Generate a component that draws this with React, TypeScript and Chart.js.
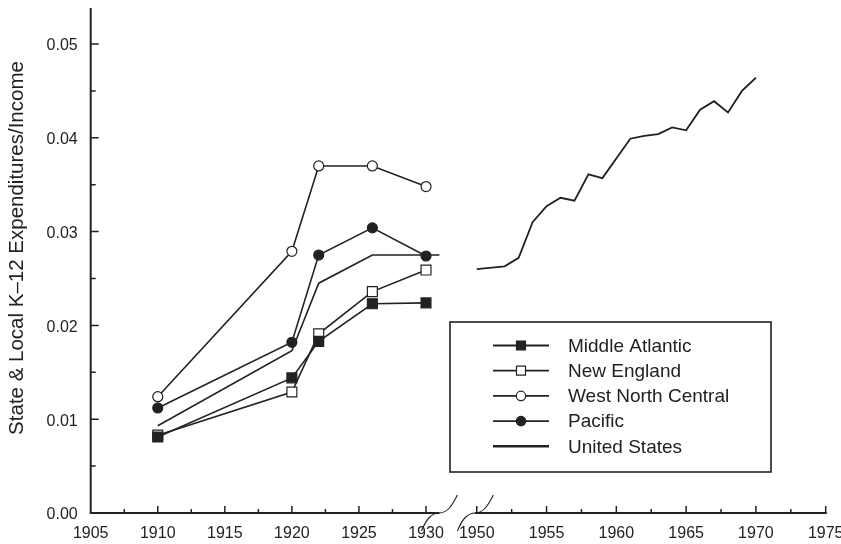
import React, { useEffect, useRef } from 'react';
import { Chart, registerables } from 'chart.js';

Chart.register(...registerables);

// ---- data ----
const regionYears = [1910, 1920, 1922, 1926, 1930];
const middleAtlantic = [0.0081, 0.0144, 0.0183, 0.0223, 0.0224];
const newEngland = [0.0083, 0.0129, 0.0191, 0.0236, 0.0259];
const westNorthCentral = [0.0124, 0.0279, 0.037, 0.037, 0.0348];
const pacific = [0.0112, 0.0182, 0.0275, 0.0304, 0.0274];

const usEarlyYears = [1910, 1920, 1922, 1926, 1931];
const usEarly = [0.0093, 0.0173, 0.0245, 0.0275, 0.0275];

const usLateYears = [1950, 1952, 1953, 1954, 1955, 1956, 1957, 1958, 1959, 1961, 1962, 1963, 1964, 1965, 1966, 1967, 1968, 1969, 1970];
const usLate = [0.026, 0.0263, 0.0272, 0.031, 0.0327, 0.0336, 0.0333, 0.0361, 0.0357, 0.0399, 0.0402, 0.0404, 0.0411, 0.0408, 0.043, 0.0439, 0.0427, 0.045, 0.0464];

const leftTickYears = [1905, 1910, 1915, 1920, 1925, 1930];
const rightTickYears = [1950, 1955, 1960, 1965, 1970, 1975];
const yTickValues = [0, 0.01, 0.02, 0.03, 0.04, 0.05];

const yTitle = 'State & Local K\u201312 Expenditures/Income';
const legendLabels = ['Middle Atlantic', 'New England', 'West North Central', 'Pacific', 'United States'];

const INK = '#222222';
const FONT = "'Liberation Sans', Arial, Helvetica, sans-serif";
const Y_MAX = 0.05373;

type Marker = { style: string; fill: string } | null;
const legendMarkers: Marker[] = [
  { style: 'rect', fill: INK },
  { style: 'rect', fill: '#ffffff' },
  { style: 'circle', fill: '#ffffff' },
  { style: 'circle', fill: INK },
  null,
];

const pts = (xs: number[], ys: number[]) => xs.map((x, i) => ({ x, y: ys[i] }));

const brokenAxesPlugin = {
  id: 'brokenAxes',
  afterDatasetsDraw(chart: any) {
    const ctx: CanvasRenderingContext2D = chart.ctx;
    const ys = chart.scales.y;
    const xl = chart.scales.xL;
    const xr = chart.scales.xR;
    const bottom = ys.getPixelForValue(0);
    const left = xl.getPixelForValue(1905);
    const top = chart.chartArea.top;
    ctx.save();
    ctx.strokeStyle = INK;
    ctx.lineCap = 'butt';
    // axis lines
    ctx.lineWidth = 2;
    ctx.beginPath();
    ctx.moveTo(left, top - 1);
    ctx.lineTo(left, bottom + 1);
    ctx.moveTo(left - 1, bottom);
    ctx.lineTo(xl.getPixelForValue(1931), bottom);
    ctx.moveTo(xr.getPixelForValue(1949.87), bottom);
    ctx.lineTo(xr.getPixelForValue(1975) + 1, bottom);
    ctx.stroke();
    // ticks
    ctx.lineWidth = 1.5;
    ctx.beginPath();
    yTickValues.forEach((v) => {
      const p = ys.getPixelForValue(v);
      if (v > 0) {
        ctx.moveTo(left, p);
        ctx.lineTo(left + 8, p);
      }
      if (v + 0.005 < Y_MAX) {
        const m = ys.getPixelForValue(v + 0.005);
        ctx.moveTo(left, m);
        ctx.lineTo(left + 5, m);
      }
    });
    const xt = (scale: any, arr: number[], skipFirst: boolean) => {
      arr.forEach((v, i) => {
        const p = scale.getPixelForValue(v);
        if (!(skipFirst && i === 0)) {
          ctx.moveTo(p, bottom);
          ctx.lineTo(p, bottom - 7);
        }
        if (i < arr.length - 1) {
          const m = scale.getPixelForValue(v + 2.5);
          ctx.moveTo(m, bottom);
          ctx.lineTo(m, bottom - 4);
        }
      });
    };
    xt(xl, leftTickYears, true);
    xt(xr, rightTickYears, false);
    ctx.stroke();
    // break marks
    ctx.lineWidth = 1.1;
    const brk = (cx: number) => {
      ctx.moveTo(cx - 18, bottom + 18);
      ctx.bezierCurveTo(cx - 13, bottom + 6, cx - 8, bottom, cx, bottom);
      ctx.bezierCurveTo(cx + 8, bottom, cx + 13, bottom - 8, cx + 18, bottom - 18);
    };
    ctx.beginPath();
    brk(xl.getPixelForValue(1931));
    brk(xr.getPixelForValue(1949.9));
    ctx.stroke();
    ctx.restore();
  },
  afterDraw(chart: any) {
    const ctx: CanvasRenderingContext2D = chart.ctx;
    ctx.save();
    // y-axis title
    ctx.save();
    ctx.translate(17.5, 248);
    ctx.rotate(-Math.PI / 2);
    ctx.font = `20.5px ${FONT}`;
    ctx.fillStyle = INK;
    ctx.textAlign = 'center';
    ctx.textBaseline = 'middle';
    ctx.fillText(yTitle, 0, 0);
    ctx.restore();
    // legend box
    const bx = 450, by = 322, bw = 321, bh = 150;
    ctx.strokeStyle = INK;
    ctx.lineWidth = 1.6;
    ctx.strokeRect(bx, by, bw, bh);
    ctx.font = `19px ${FONT}`;
    ctx.textBaseline = 'middle';
    ctx.textAlign = 'left';
    legendLabels.forEach((label, i) => {
      const y = 345.5 + i * 25.2;
      ctx.strokeStyle = INK;
      ctx.lineWidth = i === 4 ? 2.5 : 1.8;
      ctx.beginPath();
      ctx.moveTo(493, y);
      ctx.lineTo(549, y);
      ctx.stroke();
      const mk = legendMarkers[i];
      if (mk) {
        ctx.fillStyle = mk.fill;
        ctx.lineWidth = 1.2;
        ctx.beginPath();
        if (mk.style === 'rect') {
          ctx.rect(521 - 4.5, y - 4.5, 9, 9);
        } else {
          ctx.arc(521, y, 4.7, 0, Math.PI * 2);
        }
        ctx.fill();
        ctx.stroke();
      }
      ctx.fillStyle = INK;
      ctx.fillText(label, 568, y + 1);
    });
    ctx.restore();
  },
};

const fitX = (s: any) => {
  s.height = 31;
  s.paddingLeft = 0;
  s.paddingRight = 0;
};

export default function App() {
  const ref = useRef<HTMLCanvasElement>(null);
  useEffect(() => {
    document.body.style.margin = '0';
    const canvas = ref.current;
    if (!canvas) return;
    const lineBase = {
      borderColor: INK,
      borderWidth: 1.6,
      pointBorderColor: INK,
      pointBorderWidth: 1.2,
      tension: 0,
      fill: false,
    };
    const xTicks = { color: INK, font: { size: 16, family: FONT }, padding: 11, maxRotation: 0, autoSkip: false, callback: (v: any) => String(v) };
    const chart = new Chart(canvas, {
      type: 'line',
      data: {
        datasets: [
          { ...lineBase, label: 'Middle Atlantic', xAxisID: 'xL', data: pts(regionYears, middleAtlantic), pointStyle: 'rect', pointRadius: 7, pointBackgroundColor: INK },
          { ...lineBase, label: 'New England', xAxisID: 'xL', data: pts(regionYears, newEngland), pointStyle: 'rect', pointRadius: 7, pointBackgroundColor: '#ffffff' },
          { ...lineBase, label: 'West North Central', xAxisID: 'xL', data: pts(regionYears, westNorthCentral), pointStyle: 'circle', pointRadius: 5, pointBackgroundColor: '#ffffff' },
          { ...lineBase, label: 'Pacific', xAxisID: 'xL', data: pts(regionYears, pacific), pointStyle: 'circle', pointRadius: 5, pointBackgroundColor: INK },
          { ...lineBase, label: 'United States', xAxisID: 'xL', data: pts(usEarlyYears, usEarly), pointRadius: 0 },
          { ...lineBase, label: 'United States', xAxisID: 'xR', data: pts(usLateYears, usLate), pointRadius: 0, borderWidth: 1.8 },
        ],
      } as any,
      options: {
        animation: false,
        responsive: false,
        devicePixelRatio: 1,
        layout: { padding: { top: 9, right: 15.3, left: 0, bottom: 0 } },
        plugins: { legend: { display: false }, title: { display: false }, tooltip: { enabled: false } },
        font: { family: FONT },
        scales: {
          xL: {
            type: 'linear',
            position: 'bottom',
            stack: 'xs',
            stackWeight: 1,
            min: 1905,
            max: 1932.4,
            grid: { display: false, drawTicks: false },
            border: { display: false },
            afterBuildTicks: (s: any) => { s.ticks = leftTickYears.map((v) => ({ value: v })); },
            afterFit: fitX,
            ticks: xTicks,
          },
          xR: {
            type: 'linear',
            position: 'bottom',
            stack: 'xs',
            stackWeight: 1,
            min: 1948.67,
            max: 1975,
            grid: { display: false, drawTicks: false },
            border: { display: false },
            afterBuildTicks: (s: any) => { s.ticks = rightTickYears.map((v) => ({ value: v })); },
            afterFit: fitX,
            ticks: xTicks,
          },
          y: {
            type: 'linear',
            position: 'left',
            min: 0,
            max: Y_MAX,
            grid: { display: false, drawTicks: false },
            border: { display: false },
            afterBuildTicks: (s: any) => { s.ticks = yTickValues.map((v) => ({ value: v })); },
            afterFit: (s: any) => { s.width = 90.7; s.paddingTop = 0; s.paddingBottom = 0; },
            ticks: { color: INK, font: { size: 16, family: FONT }, padding: 13, labelOffset: 2, callback: (v: any) => Number(v).toFixed(2) },
            title: { display: false, text: yTitle },
          },
        },
      } as any,
      plugins: [brokenAxesPlugin],
    });
    return () => chart.destroy();
  }, []);
  return <canvas ref={ref} width={841} height={544} style={{ display: 'block', width: 841, height: 544 }} />;
}
